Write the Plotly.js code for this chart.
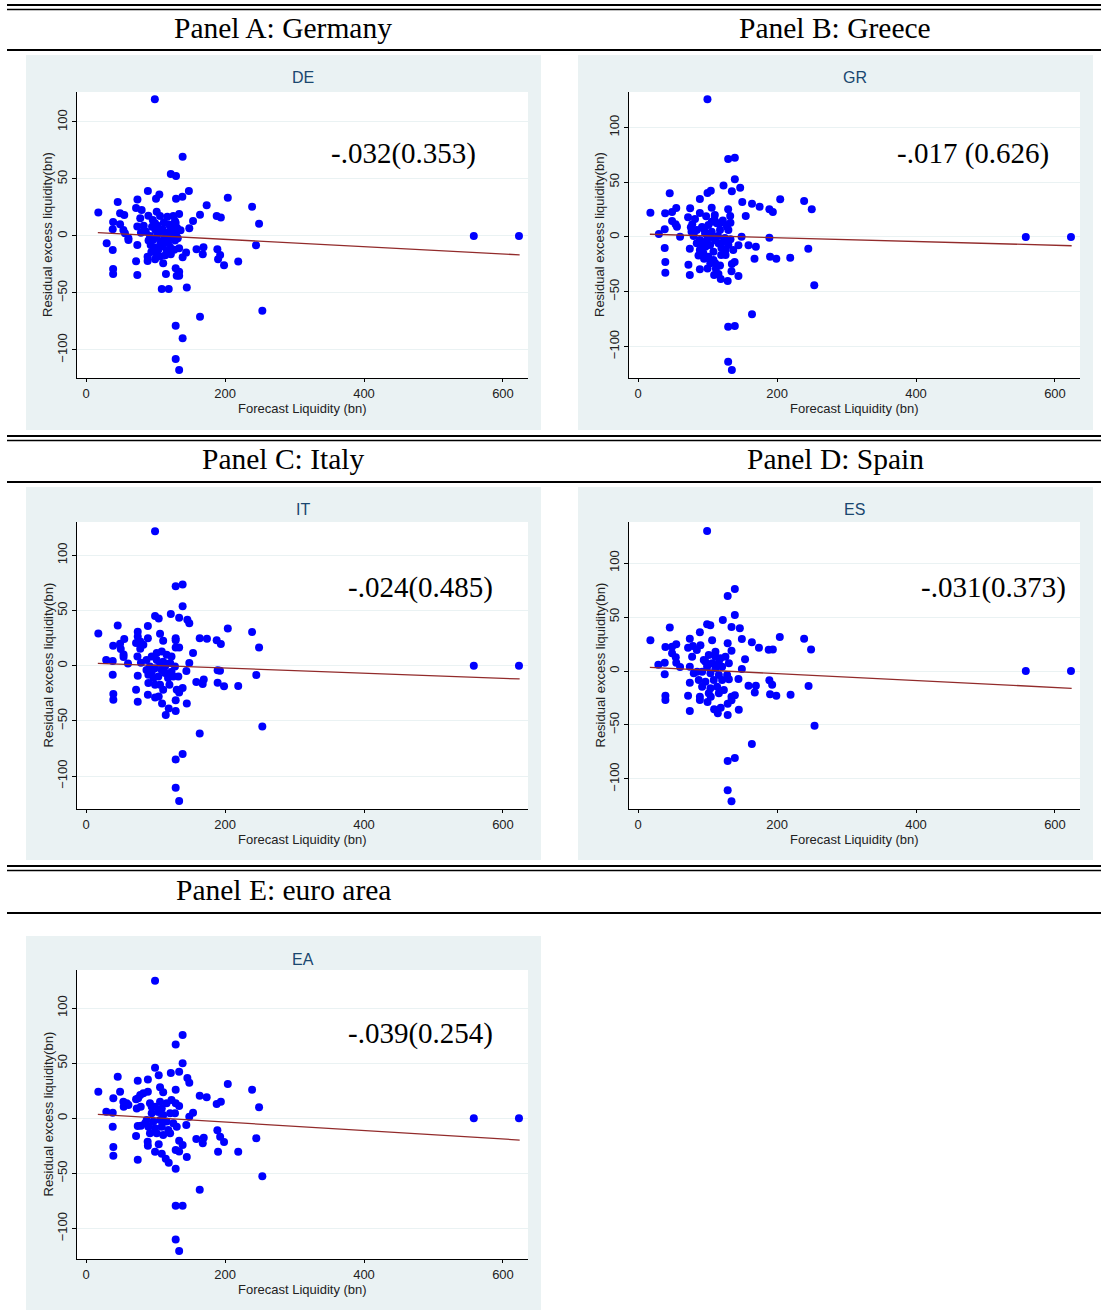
<!DOCTYPE html>
<html>
<head>
<meta charset="utf-8">
<script src="https://cdn.plot.ly/plotly-3.0.1.min.js"></script>
<style>html,body{margin:0;padding:0;background:#fff;}#chart{width:1101px;height:1314px;}</style>
</head>
<body>
<div id="chart"></div>
<script>
// ---------------- DATA ----------------
const panelTitles = ['Panel A: Germany', 'Panel B: Greece', 'Panel C: Italy', 'Panel D: Spain', 'Panel E: euro area'];
const countryCodes = ['DE', 'GR', 'IT', 'ES', 'EA'];
const coefTexts = ['-.032(0.353)', '-.017 (0.626)', '-.024(0.485)', '-.031(0.373)', '-.039(0.254)'];
const xTickVals = [0, 200, 400, 600];
const yTickVals = [-100, -50, 0, 50, 100];
const xTitle = 'Forecast Liquidity (bn)';
const yTitle = 'Residual excess liquidity(bn)';

// [forecast liquidity, residual excess liquidity]
const DE = [[99,120],[139,69.6],[122,54.4],[129.5,52.6],[89,39.5],[148,39.5],[45.6,29.8],[74,31.9],[105.5,36.3],[100.7,32.7],[129.5,32.7],[138.6,34.5],[204,33.6],[239,25.7],[17.7,20.5],[49,19.9],[55,18.4],[72,24.6],[80,22.8],[89.7,17.8],[78,15.5],[39,12.3],[173.6,26.9],[164,18.7],[188,17.5],[194,16.1],[249,10.8],[154,13.2],[148.6,6.7],[38.4,5.9],[49,10.3],[53.7,5.3],[73.8,8.2],[134,19.3],[125.6,17.5],[117,16.9],[101.7,21.3],[106.5,17.5],[129,11.7],[99.3,11.1],[79,2.9],[61,-2],[56,2.3],[29.7,-6.4],[38.4,-12.3],[61,-3.5],[73.8,-7.9],[72,-22.2],[39,-29],[39,-33.3],[73.8,-34.2],[88.6,-18.2],[88.6,-22],[99.3,-20.5],[111,-24],[106.5,-18],[115,-33.3],[109,-46.5],[119,-46.5],[129,-28.4],[134,-31.3],[130.5,-35],[134,-35],[145,-45.3],[134,-10.8],[144,-14.6],[139,-18.7],[159,-11.7],[169,-9.9],[168,-16],[189,-11.7],[193,-16.7],[190,-20.5],[198.6,-25.7],[219,-22.5],[244.6,-8.2],[253.7,-65.5],[164,-70.8],[129,-78.7],[139,-89.8],[129,-108],[134,-117.5],[558,0],[623,0],
  [95,8],[100,5],[105,3],[110,6],[115,2],[120,4],[125,8],[130,3],[92,0],[97,-3],[102,-1],[108,-5],[113,-2],[118,-6],[123,-1],[128,-4],[93,-8],[98,-10],[104,-12],[110,-9],[116,-13],[121,-10],[127,-12],[96,14],[103,9],[112,12],[119,10],[131,7],[90,-4],[101,-15],[107,-7],[126,2],[132,-2],[86,4],[114,-17],[122,-16],[128,13],[136,5],[83,9],[94,-14]];

const GR = [[99.9,125.8],[129.7,71.2],[139.3,72.4],[139.3,52.7],[123,46.9],[135,41.7],[147,45],[104.7,42.3],[100,40.2],[89,34.7],[45.6,39.9],[150,32],[164,30.4],[175,27.7],[204.6,34.4],[239,32.9],[250,25.3],[189,25.3],[194,22.8],[17.8,22.2],[39,21.6],[49,22.8],[55,26.5],[75,26.2],[89,21.9],[106,26.8],[129.7,25.3],[72,18],[82,16.4],[78,11.6],[76,8.9],[49,14.6],[54,11.6],[56,9.4],[38.4,7],[30,2.7],[60.5,0.3],[149,0.3],[189,-0.6],[155,19.2],[110.5,20],[132.6,19.2],[118,12.5],[128,11],[106,14],[95,7],[130,6.4],[77,4.8],[80,0.9],
  [38.4,-10],[39.3,-22.8],[39.3,-32.6],[74.5,-10.7],[72.5,-25.3],[74.5,-34.7],[89,-29.5],[100,-28.9],[109.5,-34.7],[115.7,-33.8],[119,-38.4],[129,-40.2],[134.5,-31.3],[135,-24.7],[139,-22.8],[144.5,-35.6],[111,-24],[126,-16.4],[119.6,-16.4],[144.5,-7.6],[159,-7.6],[169.6,-8.9],[167.6,-19.8],[190,-18],[199,-20],[219,-18.9],[245,-10.7],[253.6,-44],[164,-70.6],[129.7,-81.9],[139.3,-81.3],[129.7,-114],[135,-121.5],
  [84.5,-5.8],[89,-11.9],[94,-14.9],[99,-2.7],[103.7,-7.3],[108.5,-13.4],[115.7,-5.8],[123,-4.3],[130,-7.3],[101,-18],[108.5,-21],[89,-2.7],[96.5,3.4],[106,4.8],[118,6.4],[128,9.4],[113.4,12.5],[101.3,11],[84.6,6.4],[80,3.4],
  [92,-6],[97,-9],[111,-3],[120,-10],[126,-12],[105,0],[115,1],[125,-1],[95,-20],[118,-26],[112,-29],[87,-17],[104,-24],[133,-2],[137,-12],[92,9],[122,15],[110,16],[98,19],[133,13],
  [558,0],[623,0]];

const IT = [[99.3,122],[129,72],[139,73.7],[139,54],[122,47],[99.3,45],[104.6,42.9],[134,43.5],[145.8,41.7],[148.6,38.4],[89,36],[45.6,36.5],[204,33.8],[239,30.5],[17.7,29.3],[74.4,30.8],[74.4,26.6],[106.5,29],[89,25],[55,24.2],[111,22.6],[129,25],[129,23],[163.6,25],[174,24.4],[188,23.2],[194,19.6],[249,16.6],[49,19.9],[39,18.1],[50,15.1],[72,20.5],[78,22],[82.5,19],[78,15.4],[54,10.2],[54,7.9],[74,8.4],[29,5.2],[38.4,4.3],[60.4,2.1],[79,2.7],[154,11.5],[148.6,2.4],[129,16.6],[134,16.6],
  [38.4,-8.2],[39.3,-25.6],[39.3,-30.8],[74.4,-9],[72,-21.7],[74.4,-32.6],[89,-26.3],[99.3,-28.7],[104.6,-27.8],[109.4,-34.2],[119,-38.7],[114.7,-44.7],[129,-41.1],[129,-31.2],[145,-34.2],[134,-24.2],[139,-20.2],[144.4,-4.8],[158.7,-14.8],[167.9,-16.6],[169.4,-12.4],[189.4,-4.2],[192.8,-4.5],[189.4,-15.4],[198.6,-18.7],[219,-18.4],[245,-8.4],[253.7,-55],[163.6,-61.4],[129,-85],[139,-80],[129,-110.6],[134,-122.6],
  [87,5.2],[94.5,8.4],[101.7,11.5],[109,13],[116,10],[123,8.4],[87,-3.8],[92,-0.6],[99.3,-2.2],[106.5,2.4],[113.7,-0.6],[121,2.4],[128,-0.6],[89.7,-8.2],[97,-11.2],[104,-9.7],[113.7,-6.7],[118,-11.2],[125.6,-9.7],[132.8,-9.7],[89.7,-15.7],[99.3,-17.2],[106.5,-17.2],[111,-21.7],[120,-17.2],[130.5,-21.7],[101.7,5.2],[111,3.7],[94.5,-5.4],[109,-3.8],[123,-5.4],
  [558,0],[623,0]];

const ES = [[99.4,129.6],[139.3,75.9],[129,69.4],[139.3,51.9],[122,47.2],[99.4,43.2],[104,42.3],[134.5,40.7],[146.5,39.5],[45.7,40.4],[89,35.8],[204,31.5],[239,29.9],[17.8,28.4],[74.5,29.9],[106.6,28.4],[149.4,29.6],[163.8,26.6],[174,21.6],[188,19.7],[194,20],[249,20],[39.4,22.2],[49,22.5],[55,24.7],[72,21.6],[79,23.1],[84.6,19.4],[89.8,23.8],[49,16.4],[54.3,12.7],[55,7.7],[77.8,13.2],[29.2,5.8],[38.4,7.7],[60.5,3.7],[38.4,-3],[74.5,4],[74.5,-10.8],[39.4,-22.9],[39.4,-26.9],[72,-22.9],[74.5,-37],[89,-23.8],[89,-26.9],[100,-28.7],[104.7,-23.8],[109.5,-35.5],[114.8,-39.2],[119,-34],[129,-30.3],[129,-40.7],[134.5,-23.8],[139.3,-22.5],[145,-35.8],[134.5,-27.1],[144.5,-7.4],[149.4,1.9],[154,10.8],[159,-13.6],[169.6,-13.6],[168,-20],[189,-8.6],[193,-12.7],[190,-21.6],[199,-22.9],[219.5,-21.9],[245.4,-13.9],[254,-50.6],[163.8,-67.6],[129,-83.3],[139.3,-80.6],[129,-110.5],[134.5,-120.6],[129,25.6],[134.5,18.8],
  [94.6,10.2],[101.8,14.8],[111.4,13.2],[118.6,11.7],[125.8,13.2],[130.7,7.1],[121,4],[111.4,2.5],[99.4,4],[92.2,-0.6],[104.2,-2.1],[116.3,-3.7],[128.2,-3.7],[87.4,-8.3],[97,-9.9],[109,-8.3],[121,-8.3],[130.7,-7.7],[92.2,-14.5],[104.2,-16],[113.8,-14.5],[123.5,-17.6],[97,8.6],[106.6,7.1],[116.3,7.7],[85,-0.6],[101.8,-20.6],[116.3,-20.6],[80.2,-2.1],[111.4,17.9],
  [558,0],[623,0]];

const EA = [[99.3,124.8],[139,75.5],[129,67],[139,49.9],[99.3,45.9],[104.6,39],[122,41],[134,42.3],[145.8,36.5],[148.6,32.3],[45.6,37.7],[74.4,34],[89,35.3],[204,31.1],[239,25.9],[17.7,24.1],[49,24.1],[39.3,18.1],[106.5,28.1],[111,23.6],[129,25.9],[163.6,20.5],[173.6,19],[188,13],[194,15],[249,10],[72,17.2],[78,21.1],[82.5,22.7],[89,24.1],[53.7,15],[58.5,13.6],[54.2,10.5],[61,12],[73,9],[78.7,10.5],[29.2,6],[38.4,5.1],[154,5.1],[148.6,1.5],[134,11.2],[129,13.6],
  [38.4,-7.6],[39.3,-26],[39.3,-33.9],[72,-16],[74.4,-7],[79,-6.7],[74.4,-37.5],[88.7,-21.2],[89,-25],[99.3,-30.3],[104.6,-23.6],[109,-32.1],[114.7,-36.6],[119,-40.3],[129,-28.7],[134,-30],[129,-45.7],[134,-20.3],[139,-24.2],[145,-35.1],[144.3,-6.1],[158.7,-18.8],[169.4,-17.6],[168,-22.7],[189,-10.9],[193,-16.7],[198.6,-21.5],[190,-30.3],[219,-30.3],[245,-18.1],[253.7,-52.6],[163.6,-64.7],[129,-79.2],[139,-79.2],[129,-110],[134,-120.3],
  [92,13.6],[99.3,10.5],[106.5,15],[116,13.6],[123,16.6],[94.5,4.5],[104,5.7],[111,3],[121,4.5],[128,4.5],[87.3,-1.5],[96.8,-3],[106.5,-1.5],[116,-3],[125.6,-4.5],[89.7,-7.6],[99.3,-9],[109,-7.6],[118.4,-10.6],[92,-13.6],[101.7,-13.6],[111,-15.1],[121,-13.6],[130.5,-7.6],[94.5,10.5],[109,9],[85,-4.5],[75,18.1],
  [558,0],[623,0]];

// fitted line end points
const fitX = [17, 624];
const fitDE = [2.9, -16.6];
const fitGR = [2.5, -8.0];
const fitIT = [2.2, -12.0];
const fitES = [3.4, -16.0];
const fitEA = [3.6, -19.7];

// ---------------- LAYOUT ----------------
const W = 1101, H = 1314;
const fx = p => p / W;
const fy = p => 1 - p / H;

const panels = [
  {pts: DE, fit: fitDE, bg: [26, 55, 541, 430], plot: [77, 92, 528, 378], yr: [-124.6, 126.3], coef: [403, 153], head: [283, 28]},
  {pts: GR, fit: fitGR, bg: [578, 55, 1093, 430], plot: [629, 92, 1080, 378], yr: [-128.8, 132.4], coef: [973, 153], head: [835, 28]},
  {pts: IT, fit: fitIT, bg: [26, 487, 541, 860], plot: [77, 522, 528, 809], yr: [-129.9, 130.3], coef: [420, 587], head: [283, 459]},
  {pts: ES, fit: fitES, bg: [578, 487, 1093, 860], plot: [629, 522, 1080, 809], yr: [-127.8, 138], coef: [993, 587], head: [835, 459]},
  {pts: EA, fit: fitEA, bg: [26, 936, 541, 1310], plot: [77, 970, 528, 1259], yr: [-127.6, 134.5], coef: [420, 1033], head: [283, 890]}
];

const sans = 'Liberation Sans, Arial, sans-serif';
const serif = 'Liberation Serif, Times New Roman, serif';
const bgColor = '#eaf2f3';
const navy = '#1a476f';

const traces = [];
const layout = {
  width: W, height: H,
  margin: {l: 0, r: 0, t: 0, b: 0},
  paper_bgcolor: '#ffffff',
  plot_bgcolor: 'rgba(0,0,0,0)',
  showlegend: false,
  shapes: [],
  annotations: []
};

// horizontal rules of the table
const rules = [[5, 2], [9.5, 1.6], [50, 2], [436, 2], [440.5, 1.6], [482, 2], [866, 2], [870.5, 1.6], [913, 2]];
rules.forEach(r => {
  layout.shapes.push({type: 'line', xref: 'paper', yref: 'paper', x0: fx(7), x1: 1, y0: fy(r[0]), y1: fy(r[0]),
    line: {color: '#000', width: r[1]}, layer: 'above'});
});

panels.forEach((p, i) => {
  const n = i === 0 ? '' : String(i + 1);
  const xa = 'xaxis' + n, ya = 'yaxis' + n;
  // panel background and plot region
  layout.shapes.push({type: 'rect', xref: 'paper', yref: 'paper', x0: fx(p.bg[0]), x1: fx(p.bg[2]), y0: fy(p.bg[3]), y1: fy(p.bg[1]),
    fillcolor: bgColor, line: {width: 0}, layer: 'below'});
  layout.shapes.push({type: 'rect', xref: 'paper', yref: 'paper', x0: fx(p.plot[0]), x1: fx(p.plot[2]), y0: fy(p.plot[3]), y1: fy(p.plot[1]),
    fillcolor: '#ffffff', line: {width: 0}, layer: 'below'});

  layout[xa] = {
    domain: [fx(p.plot[0]), fx(p.plot[2])], range: [-13, 636], anchor: 'y' + n,
    tickvals: xTickVals, ticks: 'outside', ticklen: 3, tickwidth: 1, tickcolor: '#000',
    showline: true, linecolor: '#000', linewidth: 1, showgrid: false, zeroline: false,
    tickfont: {family: sans, size: 13, color: '#222'},
    automargin: false, fixedrange: true
  };
  layout[ya] = {
    domain: [fy(p.plot[3]), fy(p.plot[1])], range: p.yr, anchor: 'x' + n,
    tickvals: yTickVals, tickangle: -90, ticks: 'outside', ticklen: 4, tickwidth: 1, tickcolor: '#000',
    showline: true, linecolor: '#000', linewidth: 1, showgrid: true, gridcolor: bgColor, gridwidth: 1, zeroline: false,
    tickfont: {family: sans, size: 13, color: '#222'},
    automargin: false, fixedrange: true
  };

  traces.push({
    type: 'scatter', mode: 'markers', xaxis: 'x' + n, yaxis: 'y' + n,
    x: p.pts.map(d => d[0]), y: p.pts.map(d => d[1]),
    marker: {color: '#0000ff', size: 8, line: {width: 0}}, cliponaxis: false, hoverinfo: 'x+y'
  });
  traces.push({
    type: 'scatter', mode: 'lines', xaxis: 'x' + n, yaxis: 'y' + n,
    x: fitX, y: p.fit, line: {color: '#922b2b', width: 1.3}, hoverinfo: 'skip'
  });

  // axis titles
  const cx = (p.plot[0] + p.plot[2]) / 2, cy = (p.plot[1] + p.plot[3]) / 2;
  layout.annotations.push({xref: 'paper', yref: 'paper', x: fx(cx), y: fy(p.plot[3] + 30), xanchor: 'center', yanchor: 'middle',
    text: xTitle, showarrow: false, font: {family: sans, size: 13, color: '#222'}});
  layout.annotations.push({xref: 'paper', yref: 'paper', x: fx(p.plot[0] - 29), y: fy(cy), xanchor: 'center', yanchor: 'middle',
    text: yTitle, textangle: -90, showarrow: false, font: {family: sans, size: 13, color: '#222'}});

  // panel heading (table)
  layout.annotations.push({xref: 'paper', yref: 'paper', x: fx(p.head[0]), y: fy(p.head[1]), xanchor: 'center', yanchor: 'middle',
    text: panelTitles[i], showarrow: false, font: {family: serif, size: 29.5, color: '#000'}});
  // graph subtitle
  const midX = (p.bg[0] + p.bg[2]) / 2 + 19;
  layout.annotations.push({xref: 'paper', yref: 'paper', x: fx(midX), y: fy(p.bg[1] + 23), xanchor: 'center', yanchor: 'middle',
    text: countryCodes[i], showarrow: false, font: {family: sans, size: 16, color: navy}});
  // coefficient text
  layout.annotations.push({xref: 'paper', yref: 'paper', x: fx(p.coef[0]), y: fy(p.coef[1]), xanchor: 'center', yanchor: 'middle',
    text: coefTexts[i], showarrow: false, font: {family: serif, size: 29, color: '#000'}});
});

Plotly.newPlot('chart', traces, layout, {displayModeBar: false, staticPlot: true});
</script>
</body>
</html>
